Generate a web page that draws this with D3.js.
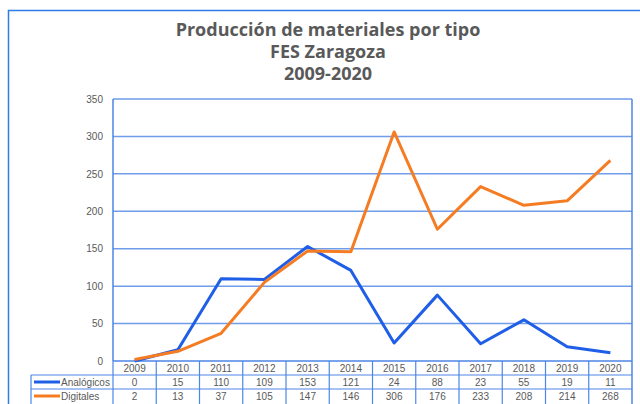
<!DOCTYPE html>
<html><head><meta charset="utf-8">
<script src="https://cdn.jsdelivr.net/npm/d3@7"></script>
<style>body{margin:0;background:#fff}svg{display:block}</style>
</head><body>
<script>
const years = ["2009","2010","2011","2012","2013","2014","2015","2016","2017","2018","2019","2020"];
const analogicos = [0,15,110,109,153,121,24,88,23,55,19,11];
const digitales = [2,13,37,105,147,146,306,176,233,208,214,268];
const seriesNames = ["Analógicos","Digitales"];
const seriesColors = ["#1f5ee6","#f57c22"];
const yTicks = [0,50,100,150,200,250,300,350];
const titleLines = ["Producción de materiales por tipo","FES Zaragoza","2009-2020"];

const W=640,H=404;
const svg=d3.select("body").append("svg").attr("width",W).attr("height",H);
const grid="#6f9de9", tbl="#4d86e6", txt="#595959";
const L=113,R=632,T=99,B=361;
const x=d3.scaleBand().domain(years).range([L,R]);
const y=d3.scaleLinear().domain([0,350]).range([B,T]);

// outer border
svg.append("path").attr("d",`M8.5,${H} V10.5 H${W}`).attr("fill","none").attr("stroke","#2f7be8").attr("stroke-width",1.5);

// title
svg.append("g").selectAll("text").data(titleLines).join("text")
 .attr("x",328).attr("y",(d,i)=>36+i*22).attr("text-anchor","middle")
 .attr("font-family","Open Sans, sans-serif").attr("font-weight",700).attr("font-size",18)
 .attr("fill",txt).text(d=>d);

// grid
svg.append("g").selectAll("line").data(yTicks.filter(d=>d>0)).join("line")
 .attr("x1",L).attr("x2",R).attr("y1",d=>y(d)).attr("y2",d=>y(d))
 .attr("stroke",grid).attr("stroke-width",1.5);
// y axis labels
const yAxis=d3.axisLeft(y).tickValues(yTicks).tickSize(0).tickPadding(10);
const ga=svg.append("g").attr("transform",`translate(${L},0)`).call(yAxis);
ga.select(".domain").remove();
ga.selectAll("text").attr("font-family","Liberation Sans, sans-serif").attr("font-size",10).attr("fill",txt);

// plot box
svg.append("line").attr("x1",L).attr("x2",L).attr("y1",T).attr("y2",B).attr("stroke",tbl).attr("stroke-width",1.5);
svg.append("line").attr("x1",R).attr("x2",R).attr("y1",T).attr("y2",H).attr("stroke",tbl).attr("stroke-width",1.5);

// table
const rowH=14, rows=[B,B+rowH,B+2*rowH,B+3*rowH];
const tg=svg.append("g");
tg.append("line").attr("x1",L).attr("x2",R).attr("y1",B).attr("y2",B).attr("stroke",tbl).attr("stroke-width",1.5);
[rows[1],rows[2]].forEach(v=>tg.append("line").attr("x1",31).attr("x2",R).attr("y1",v).attr("y2",v).attr("stroke",tbl).attr("stroke-width",1.2));
years.forEach(yr=>tg.append("line").attr("x1",x(yr)).attr("x2",x(yr)).attr("y1",B).attr("y2",H).attr("stroke",tbl).attr("stroke-width",1.2));
tg.append("line").attr("x1",31).attr("x2",31).attr("y1",rows[1]).attr("y2",H).attr("stroke",tbl).attr("stroke-width",1.2);
tg.selectAll("text.yr").data(years).join("text").attr("class","yr")
 .attr("x",d=>x(d)+x.bandwidth()/2).attr("y",B+11).attr("text-anchor","middle")
 .attr("font-family","Liberation Sans, sans-serif").attr("font-size",10).attr("fill",txt).text(d=>d);
[analogicos,digitales].forEach((arr,si)=>{
  const ry=rows[1+si];
  tg.selectAll("text.v"+si).data(arr).join("text").attr("class","v"+si)
   .attr("x",(d,i)=>x(years[i])+x.bandwidth()/2).attr("y",ry+11).attr("text-anchor","middle")
   .attr("font-family","Liberation Sans, sans-serif").attr("font-size",10).attr("fill",txt).text(d=>d);
  tg.append("line").attr("x1",34).attr("x2",60).attr("y1",ry+7).attr("y2",ry+7).attr("stroke",seriesColors[si]).attr("stroke-width",3);
  tg.append("text").attr("x",61).attr("y",ry+11).attr("font-family","Liberation Sans, sans-serif").attr("font-size",10).attr("fill",txt).text(seriesNames[si]);
});

// lines
const line=d3.line().x((d,i)=>x(years[i])+x.bandwidth()/2).y(d=>y(d));
[analogicos,digitales].forEach((arr,si)=>{
  svg.append("path").datum(arr).attr("d",line).attr("fill","none")
   .attr("stroke",seriesColors[si]).attr("stroke-width",3).attr("stroke-linejoin","round");
});
</script>
</body></html>
